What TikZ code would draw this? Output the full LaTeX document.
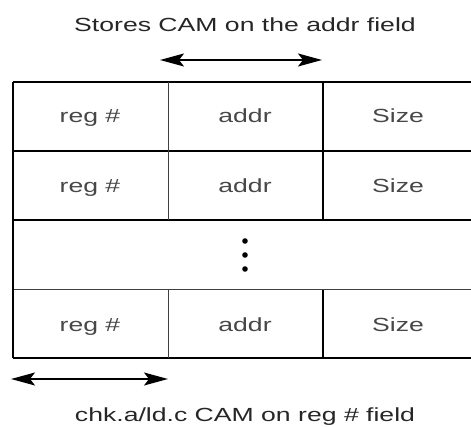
\documentclass[tikz,border=0pt]{standalone}
\usepackage{fontspec}
\setmainfont{Liberation Sans}
\usetikzlibrary{arrows.meta}
\newcommand{\wide}[1]{\scalebox{1.4}[1]{#1}}

\tikzset{
  cell/.style={anchor=base, inner sep=0pt, text=black!72, font=\fontsize{19}{22}\selectfont},
  caption/.style={anchor=base, inner sep=0pt, text=black!85, font=\fontsize{19}{22}\selectfont},
  rowline/.style={line width=2pt},
  colline/.style={line width=1pt, black!75},
  span/.style={line width=1.5pt, {Stealth[length=24pt,width=13pt,inset=5pt]}-{Stealth[length=24pt,width=13pt,inset=5pt]}}
}

\begin{document}
\begin{tikzpicture}[x=1pt,y=-1pt]
\useasboundingbox (0,0) rectangle (471,427);

% table frame
\draw[rowline] (13,82) -- (471,82);
\draw[rowline] (13,151) -- (471,151);
\draw[rowline] (13,220) -- (471,220);
\draw[colline] (13,290) -- (471,290);
\draw[rowline] (13,358) -- (471,358);
\draw[rowline] (13,82) -- (13,358);
\draw[colline] (168,82) -- (168,220);
\draw[colline, line width=1.3pt, black] (323,82) -- (323,220);
\draw[colline] (168,290) -- (168,358);
\draw[colline, line width=1.3pt, black] (323,290) -- (323,358);

% cells
\foreach \row/\y in {1/123,2/193,4/332} {
  \node[cell] (reg\row) at (90,\y) {\wide{reg \#}};
  \node[cell] (addr\row) at (245,\y) {\wide{addr}};
  \node[cell] (size\row) at (398,\y) {\wide{Size}};
}

% more rows
\foreach \d in {241,255,269}
  \fill (245,\d) circle (2.8);

% CAM on addr
\node[caption] (camaddr) at (245,32) {\wide{Stores CAM on the addr field}};
\coordinate (addrL) at (160,60);
\coordinate (addrR) at (322,60);
\draw[span] (addrL) -- (addrR);

% CAM on reg #
\coordinate (regL) at (11,379);
\coordinate (regR) at (168,379);
\draw[span] (regL) -- (regR);
\node[caption] (camreg) at (245,421) {\wide{chk.a/ld.c CAM on reg \# field}};
\end{tikzpicture}
\end{document}
